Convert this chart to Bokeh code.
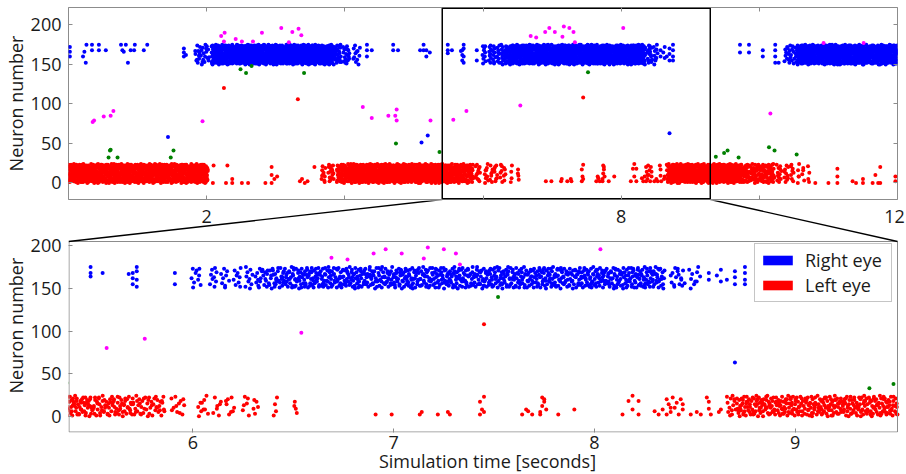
import numpy as np
from bokeh.plotting import figure
from bokeh.layouts import column
from bokeh.models import FixedTicker, Legend, LegendItem, Range1d, Title, LinearAxis
from bokeh.core.properties import value
from bokeh.embed import file_html
from bokeh.resources import INLINE

FONT = "Open Sans"

# ---------------- data ----------------
top_x_range = [0.0, 12.0]
top_y_range = [-21.0, 222.0]
bot_x_range = [5.38, 9.51]
bot_y_range = [-19.0, 205.0]
top_x_label_ticks = [2, 8, 12]
top_x_labels = ["2", "8", "12"]
top_x_all_ticks = [0, 2, 4, 6, 8, 10, 12]
bot_x_ticks = [6, 7, 8, 9]
y_ticks = [0, 50, 100, 150, 200]
zoom_box_t = [5.41, 9.29]

# Left-eye (red) population: neurons 0..24
red_neurons = [0, 24]
red_burst_start = [0.00, 3.66, 3.76, 3.88, 4.05, 5.50, 5.70, 5.89, 6.02, 6.10, 6.16, 6.24, 6.30, 6.40, 6.50,
                   8.66, 8.71, 9.75, 10.25, 10.36, 10.45, 10.55, 10.62, 10.70]
red_burst_end = [2.02, 3.72, 3.84, 4.05, 5.50, 5.70, 5.86, 5.96, 6.08, 6.14, 6.21, 6.28, 6.33, 6.42, 6.52,
                 8.71, 9.75, 10.22, 10.32, 10.42, 10.50, 10.58, 10.65, 10.73]
red_burst_spikes = [800, 10, 16, 50, 600, 72, 46, 12, 10, 7, 8, 6, 5, 4, 4,
                    14, 440, 120, 12, 10, 8, 5, 4, 4]
red_single_t = [2.09, 2.10, 2.28, 2.30, 2.37, 2.37, 2.51, 2.60, 2.85, 2.94, 2.94, 2.94, 2.98, 3.02, 3.35, 3.38,
                3.42, 3.46, 3.56,
                6.91, 6.99, 7.13, 7.14, 7.22, 7.27, 7.28, 7.43, 7.43, 7.45, 7.44, 7.45, 7.64, 7.66, 7.67, 7.69,
                7.73, 7.73, 7.74, 7.75, 7.75, 7.74, 7.76, 7.82, 7.90,
                8.14, 8.17, 8.19, 8.19, 8.22, 8.22, 8.30, 8.32, 8.34, 8.36, 8.37, 8.38, 8.39, 8.40, 8.41, 8.42,
                8.43, 8.44, 8.44, 8.36, 8.38, 8.48, 8.51, 8.53, 8.56, 8.57, 8.57, 8.58, 8.62, 8.63,
                10.81, 11.00, 11.13, 11.13, 11.13, 11.35, 11.40, 11.50, 11.50, 11.64, 11.68, 11.72, 11.75, 11.75,
                11.97, 11.97,
                2.25, 3.32, 7.45]
red_single_n = [0, 22, 0, 22, 5, 0, 0, 0, 0, 0, 10, 20, 5, 8, 2, 5,
                0, 2, 20,
                2, 2, 2, 5, 2, 5, 2, 2, 17, 23, 8, 5, 2, 8, 6, 2,
                5, 2, 22, 20, 17, 12, 8, 2, 8,
                2, 18, 8, 24, 18, 2, 6, 2, 8, 20, 14, 5, 22, 10, 16, 2,
                20, 8, 14, 2, 10, 2, 5, 2, 22, 17, 9, 2, 5, 8,
                0, 0, 0, 8, 18, 2, 0, 5, 0, 0, 10, 0, 20, 0,
                2, 8,
                120, 106, 108]

# Right-eye (blue) population: neurons 150..175
blue_neurons = [150, 175]
blue_burst_start = [1.83, 2.07, 3.83, 3.97, 4.12, 5.99, 6.08, 6.14, 6.20, 6.26, 6.31, 6.38, 6.45, 8.38, 8.47,
                    10.36, 10.55]
blue_burst_end = [2.04, 3.83, 3.95, 4.07, 4.22, 6.04, 6.12, 6.18, 6.24, 6.30, 6.38, 6.45, 8.35, 8.45, 8.53,
                  10.55, 12.00]
blue_burst_spikes = [28, 780, 28, 18, 12, 10, 9, 9, 9, 10, 20, 26, 820, 16, 10, 25, 620]
blue_single_t = [0.02, 0.02, 0.02, 0.21, 0.23, 0.26, 0.25, 0.34, 0.34, 0.44, 0.44, 0.54, 0.76, 0.78, 0.80,
                 0.83, 0.86, 0.90, 0.96, 0.95, 1.09, 1.14, 1.67, 1.67, 1.67, 1.70,
                 4.32, 4.32, 4.32, 4.39, 4.70, 4.70, 4.77, 5.09, 5.14, 5.14, 5.18, 5.18, 5.23,
                 5.49, 5.49, 5.49, 5.55, 5.68, 5.70, 5.70, 5.70, 5.72, 5.72, 5.72, 5.72, 5.91, 5.91,
                 8.57, 8.57, 8.61, 8.63, 8.63, 8.66, 8.70, 8.70, 8.70, 8.75, 8.75, 8.75, 8.75,
                 9.72, 9.72, 9.85, 9.85, 10.05, 10.05, 10.23, 10.23, 10.23, 10.23, 10.28,
                 1.44, 5.11, 5.20, 8.70]
blue_single_n = [166, 160, 172, 160, 166, 175, 152, 175, 168, 175, 168, 168, 175, 168, 166,
                 175, 152, 168, 175, 168, 168, 175, 170, 165, 160, 162,
                 160, 168, 175, 168, 168, 175, 168, 168, 168, 175, 160, 168, 165,
                 175, 168, 164, 168, 167, 168, 162, 155, 175, 170, 160, 152, 168, 155,
                 168, 160, 165, 172, 158, 160, 170, 163, 155, 175, 168, 160, 155,
                 175, 165, 175, 165, 168, 160, 175, 168, 160, 152, 152,
                 58, 51, 60, 63]

# Other cells (magenta and green)
magenta_t = [0.35, 0.37, 0.51, 0.61, 0.65, 1.94, 2.21, 2.26, 2.25, 2.42, 2.51, 2.67, 2.80, 3.08, 3.19, 3.24,
             3.33, 3.37, 4.26, 4.39, 4.63, 4.75, 4.73, 4.75, 5.24, 5.57, 5.76, 6.54, 6.69, 6.77, 6.90, 6.96,
             7.04, 7.15, 7.17, 7.25, 7.31, 7.33, 8.03, 10.16, 10.93, 11.51]
magenta_n = [77, 79, 84, 85, 91, 78, 186, 190, 179, 182, 179, 179, 190, 196, 178, 191,
             195, 187, 96, 82, 85, 93, 85, 79, 79, 80, 91, 98, 186, 184, 191, 196,
             191, 185, 198, 196, 191, 178, 196, 88, 177, 177]
green_t = [0.61, 0.60, 0.58, 0.71, 1.48, 1.52, 2.49, 2.57, 2.65, 3.41, 4.74, 5.37, 7.52, 9.37, 9.49, 9.54,
           9.70, 10.14, 10.22, 10.54]
green_n = [42, 41, 32, 32, 32, 41, 144, 139, 148, 139, 50, 39, 140, 33, 38, 41,
           32, 45, 41, 36]


# ---------------- spike placement inside bursts (deterministic, low discrepancy) ----------------
def halton(i, b):
    f, r = 1.0, 0.0
    while i > 0:
        f /= b
        r += f * (i % b)
        i //= b
    return r


def burst_spikes(starts, ends, counts, neurons, g0):
    ts, ns = [], []
    g = g0
    lo, hi = neurons
    for t0, t1, c in zip(starts, ends, counts):
        for _ in range(c):
            ts.append(t0 + halton(g, 2) * (t1 - t0))
            ns.append(lo + int(round(halton(g, 3) * (hi - lo))))
            g += 1
    return ts, ns


rt, rn = burst_spikes(red_burst_start, red_burst_end, red_burst_spikes, red_neurons, 11)
bt, bn = burst_spikes(blue_burst_start, blue_burst_end, blue_burst_spikes, blue_neurons, 5001)
red_t = np.array(rt + red_single_t)
red_n = np.array(rn + red_single_n)
blue_t = np.array(bt + blue_single_t)
blue_n = np.array(bn + blue_single_n)

RED, BLUE, MAG, GREEN = "#ff0000", "#0000ff", "#ff00ff", "#008000"
GREY = "#8c8c8c"
TXT = "#1a1a1a"

# ---------------- layout (pixels) ----------------
FRAME_W = 829
LEFT_B, RIGHT_B = 68, 9
TOP_BT, TOP_FH, TOP_BB = 7, 192, 1          # overview frame: y 7..199
GAP = 41                                     # bottom canvas top .. zoom panel top
BOT_PANEL_H = 191
BOT_FH = GAP + BOT_PANEL_H                   # bottom frame also holds the connector lines
BOT_BB = 42
OV_LABEL_BASELINE = 16                       # px below bottom canvas top
OV_LABEL_SHIFT = [0, 0, -3]                  # keep the last label inside the page

top_px_x = FRAME_W / (top_x_range[1] - top_x_range[0])
bot_px_x = FRAME_W / (bot_x_range[1] - bot_x_range[0])
top_px_y = TOP_FH / (top_y_range[1] - top_y_range[0])
bot_px_y = BOT_PANEL_H / (bot_y_range[1] - bot_y_range[0])
bot_y_frame_top = bot_y_range[1] + GAP / bot_px_y
bot_x_frame_right = bot_x_range[1] + RIGHT_B / bot_px_x


def base_style(p):
    p.xgrid.visible = False
    p.ygrid.visible = False
    p.background_fill_color = "white"
    p.border_fill_color = "white"
    for ax in p.xaxis + p.yaxis:
        ax.axis_line_color = None
        ax.major_tick_in = 4
        ax.major_tick_out = 0
        ax.minor_tick_in = 4
        ax.minor_tick_out = 0
        ax.major_tick_line_color = GREY
        ax.minor_tick_line_color = GREY
        ax.major_label_text_font = FONT
        ax.major_label_text_font_size = "18px"
        ax.major_label_text_color = TXT
        ax.axis_label_text_font = FONT
        ax.axis_label_text_font_size = "18px"
        ax.axis_label_text_font_style = "normal"
        ax.axis_label_text_color = TXT
    p.yaxis.ticker = FixedTicker(ticks=y_ticks)
    p.yaxis.major_label_standoff = 7


def ylabel(p, align, offset=0):
    p.add_layout(Title(text="Neuron number", align=align, vertical_align="bottom", offset=offset,
                       standoff=0, text_font=FONT, text_font_size="18px", text_font_style="normal",
                       text_color=TXT), "left")


def tick_only_axis(ticks):
    return LinearAxis(ticker=FixedTicker(ticks=[], minor_ticks=ticks), axis_line_color=None,
                      major_tick_in=0, major_tick_out=0, minor_tick_in=4, minor_tick_out=0,
                      minor_tick_line_color=GREY, major_label_standoff=0)


def draw_spikes(p, xr):
    lo, hi = xr[0], xr[1]
    for t, n, c in ((red_t, red_n, RED), (blue_t, blue_n, BLUE),
                    (np.array(magenta_t), np.array(magenta_n), MAG),
                    (np.array(green_t), np.array(green_n), GREEN)):
        m = (t >= lo - 0.05) & (t <= hi)
        p.scatter(t[m], n[m], size=4, fill_color=c, line_color=None)


# ---------------- top (overview) ----------------
top = figure(frame_width=FRAME_W, frame_height=TOP_FH,
             x_range=tuple(top_x_range), y_range=tuple(top_y_range),
             output_backend="svg", toolbar_location=None,
             min_border_left=LEFT_B, min_border_right=RIGHT_B,
             min_border_top=TOP_BT, min_border_bottom=TOP_BB)
base_style(top)
ylabel(top, "center")
top.outline_line_color = GREY
top.xaxis.ticker = FixedTicker(ticks=[], minor_ticks=top_x_all_ticks)
top.xaxis.major_label_standoff = 0
top.add_layout(tick_only_axis(y_ticks), "right")
top.add_layout(tick_only_axis(top_x_all_ticks), "above")
draw_spikes(top, top_x_range)
inset_y = 0.75 / top_px_y
top.quad(left=[zoom_box_t[0]], right=[zoom_box_t[1]],
         bottom=[top_y_range[0] + inset_y], top=[top_y_range[1] - inset_y],
         fill_alpha=0, line_color="black", line_width=1.5)

# ---------------- bottom (zoom) ----------------
bot = figure(frame_width=FRAME_W + RIGHT_B, frame_height=BOT_FH,
             x_range=(bot_x_range[0], bot_x_frame_right), y_range=(bot_y_range[0], bot_y_frame_top),
             output_backend="svg", toolbar_location=None,
             min_border_left=LEFT_B, min_border_right=0,
             min_border_top=0, min_border_bottom=BOT_BB)
bot.extra_x_ranges = {"overview": Range1d(top_x_range[0], top_x_range[1] + RIGHT_B / top_px_x)}
base_style(bot)
ylabel(bot, "left", offset=39)
bot.outline_line_color = None
bot.xaxis.ticker = FixedTicker(ticks=bot_x_ticks)
bot.xaxis.axis_label = "Simulation time [seconds]"
bot.xaxis.major_label_standoff = 3
bot.xaxis.axis_label_standoff = -3

# time tick labels of the overview panel, in the gap between the panels
ov_y = bot_y_frame_top - OV_LABEL_BASELINE / bot_px_y
bot.text(x=top_x_label_ticks, y=[ov_y] * len(top_x_label_ticks), text=top_x_labels,
         x_offset=OV_LABEL_SHIFT, x_range_name="overview", text_align="center",
         text_baseline="alphabetic", text_font=value(FONT), text_font_size="18px", text_color=TXT)

draw_spikes(bot, bot_x_range)

# panel outline of the zoomed view
ix, iy = 0.5 / bot_px_x, 0.5 / bot_px_y
bot.quad(left=[bot_x_range[0] + ix], right=[bot_x_range[1]],
         bottom=[bot_y_range[0] + iy], top=[bot_y_range[1]],
         fill_alpha=0, line_color=GREY, line_width=1)

# connector lines: zoom box corners (overview) -> zoomed panel corners
conn_x0 = [bot_x_range[0] + (zx - top_x_range[0]) * top_px_x / bot_px_x for zx in zoom_box_t]
conn_y0 = [bot_y_range[1] + (GAP + 1) / bot_px_y] * 2
bot.segment(x0=conn_x0, y0=conn_y0, x1=bot_x_range, y1=[bot_y_range[1]] * 2,
            line_color="black", line_width=1.4)

# legend (patch proxies lie outside the visible range)
r_right = bot.quad(left=[bot_x_frame_right + 1], right=[bot_x_frame_right + 2], bottom=[0], top=[1],
                   fill_color=BLUE, line_color=None)
r_left = bot.quad(left=[bot_x_frame_right + 1], right=[bot_x_frame_right + 2], bottom=[0], top=[1],
                  fill_color=RED, line_color=None)
legend = Legend(items=[LegendItem(label="Right eye", renderers=[r_right]),
                       LegendItem(label="Left eye", renderers=[r_left])],
                location=(686, 130), glyph_width=37, glyph_height=12,
                label_text_font=FONT, label_text_font_size="18px", label_text_color=TXT,
                label_standoff=9, label_width=82, padding=4, spacing=1, margin=0,
                border_line_color=GREY, border_line_width=1,
                background_fill_color="white", background_fill_alpha=1)
bot.add_layout(legend)

layout = column(top, bot, spacing=0)
open("out.html", "w").write(file_html(layout, INLINE))
